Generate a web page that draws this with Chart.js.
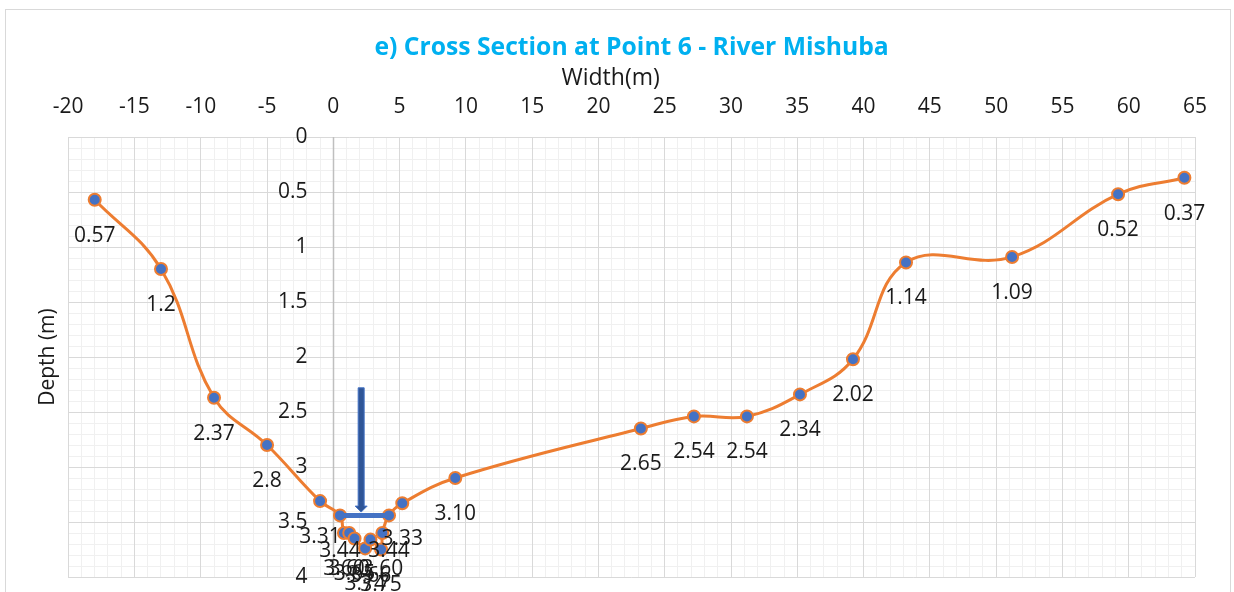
<!DOCTYPE html>
<html>
<head>
<meta charset="utf-8">
<script src="https://cdn.jsdelivr.net/npm/chart.js@4"></script>
<style>
  html, body { margin: 0; padding: 0; background: #fff; }
  #wrap { width: 1234px; height: 592px; }
</style>
</head>
<body>
<div id="wrap"><canvas id="chart"></canvas></div>
<script>
// cross section survey points
const widthX = [-18, -13, -9, -5, -1, 0.5, 0.8, 1.2, 1.6, 2.4, 2.8, 3.6, 3.7, 4.2, 5.2, 9.2,
    23.2, 27.2, 31.2, 35.2, 39.2, 43.2, 51.2, 59.2, 64.2];
const depthY = [0.57, 1.2, 2.37, 2.8, 3.31, 3.44, 3.60, 3.60, 3.65, 3.74, 3.66, 3.75, 3.60, 3.44, 3.33, 3.10,
    2.65, 2.54, 2.54, 2.34, 2.02, 1.14, 1.09, 0.52, 0.37];
const depthText = ['0.57', '1.2', '2.37', '2.8', '3.31', '3.44', '3.60', '3.60', '3.65', '3.74', '3.66', '3.75', '3.60', '3.44', '3.33', '3.10',
    '2.65', '2.54', '2.54', '2.34', '2.02', '1.14', '1.09', '0.52', '0.37'];

// axis ranges
const xRange = [-20, 65];
const yRange = [0, 4];

// water level marker (line + arrow)
const waterLineX = [0.3, 4.3];
const waterLineDepth = 3.44;
const arrowX = 2.1;
const arrowDepth = [2.28, 3.41];

const FONT = 'Open Sans';
const TXT = '#1a1a1a';
Chart.defaults.font.family = FONT;
Chart.defaults.color = TXT;

// y axis sits at x = 0, labels drawn on its left; x title a bit left of centre
const zeroAxis = {
    id: 'zeroAxis',
    beforeDatasetsDraw(chart) {
        const ctx = chart.ctx;
        const xs = chart.scales.x, ys = chart.scales.y;
        const area = chart.chartArea;
        const x0 = Math.round(xs.getPixelForValue(0)) + 0.5;
        ctx.save();
        ctx.strokeStyle = '#bfbfbf';
        ctx.lineWidth = 1.5;
        ctx.beginPath();
        ctx.moveTo(x0, area.top);
        ctx.lineTo(x0, area.bottom);
        ctx.stroke();
        ctx.font = '21px ' + FONT;
        ctx.fillStyle = TXT;
        ctx.textAlign = 'right';
        ctx.textBaseline = 'middle';
        ys.ticks.forEach(t => {
            ctx.fillText(String(Number(t.value.toFixed(2))), x0 - 26, ys.getPixelForValue(t.value));
        });
        ctx.font = '23px ' + FONT;
        ctx.textAlign = 'center';
        ctx.fillText('Width(m)', (area.left + area.right) / 2 - 21, xs.top + 2 + 13.8);
        ctx.restore();
    }
};

const pointLabels = {
    id: 'pointLabels',
    afterDatasetsDraw(chart) {
        const ctx = chart.ctx;
        const xs = chart.scales.x, ys = chart.scales.y;
        // water level line and arrow
        ctx.save();
        ctx.strokeStyle = '#4472C4';
        ctx.lineWidth = 5;
        ctx.beginPath();
        ctx.moveTo(xs.getPixelForValue(waterLineX[0]), ys.getPixelForValue(waterLineDepth));
        ctx.lineTo(xs.getPixelForValue(waterLineX[1]), ys.getPixelForValue(waterLineDepth));
        ctx.stroke();
        const ax = xs.getPixelForValue(arrowX);
        const ay0 = ys.getPixelForValue(arrowDepth[0]);
        const ay1 = ys.getPixelForValue(arrowDepth[1]);
        ctx.fillStyle = '#2F5597';
        ctx.strokeStyle = '#4472C4';
        ctx.lineWidth = 1;
        ctx.beginPath();
        ctx.moveTo(ax - 3, ay0);
        ctx.lineTo(ax + 3, ay0);
        ctx.lineTo(ax + 3, ay1 - 6);
        ctx.lineTo(ax + 6, ay1 - 6);
        ctx.lineTo(ax, ay1);
        ctx.lineTo(ax - 6, ay1 - 6);
        ctx.lineTo(ax - 3, ay1 - 6);
        ctx.closePath();
        ctx.fill();
        ctx.stroke();
        ctx.restore();

        // data labels below each point
        const meta = chart.getDatasetMeta(0);
        ctx.save();
        ctx.font = '21px ' + FONT;
        ctx.fillStyle = TXT;
        ctx.textAlign = 'center';
        ctx.textBaseline = 'middle';
        meta.data.forEach((pt, i) => {
            ctx.fillText(depthText[i], pt.x, pt.y + 36);
        });
        ctx.restore();
    }
};

const chartFrame = {
    id: 'chartFrame',
    beforeDraw(chart) {
        const ctx = chart.ctx;
        ctx.save();
        ctx.fillStyle = '#fff';
        ctx.fillRect(0, 0, chart.width, chart.height);
        ctx.strokeStyle = '#d9d9d9';
        ctx.lineWidth = 1;
        ctx.strokeRect(5.5, 9.5, chart.width - 9, chart.height + 20);
        ctx.restore();
    }
};

new Chart(document.getElementById('chart'), {
    type: 'line',
    data: {
        datasets: [{
            data: widthX.map((x, i) => ({ x: x, y: depthY[i] })),
            borderColor: '#ED7D31',
            borderWidth: 3,
            backgroundColor: '#4472C4',
            pointBackgroundColor: '#4472C4',
            pointBorderColor: '#ED7D31',
            pointBorderWidth: 2,
            pointRadius: 6,
            tension: 0.4,
            fill: false,
            xAxisID: 'x',
            yAxisID: 'y'
        }]
    },
    options: {
        responsive: true,
        maintainAspectRatio: false,
        animation: false,
        layout: { padding: { left: 33, right: 39, top: 0, bottom: 15 } },
        plugins: {
            legend: { display: false },
            tooltip: { enabled: false },
            title: {
                display: true,
                fullSize: false,
                text: 'e) Cross Section at Point 6 - River Mishuba',
                color: '#00B0F0',
                font: { size: 24.7, weight: 'bold' },
                padding: { top: 33, bottom: 0 }
            }
        },
        scales: {
            xMinor: {
                type: 'linear', position: 'top', min: xRange[0], max: xRange[1],
                ticks: { display: false, stepSize: 1 },
                grid: { color: '#f0f0f0', drawTicks: false },
                border: { display: false },
                z: -1
            },
            yMinor: {
                type: 'linear', position: 'left', reverse: true, min: yRange[0], max: yRange[1],
                ticks: { display: false, stepSize: 0.1 },
                grid: { color: '#f0f0f0', drawTicks: false },
                border: { display: false },
                title: { display: true, text: 'Depth (m)', font: { size: 21 }, color: TXT, padding: { top: 2, bottom: 8 } },
                z: -1
            },
            x: {
                type: 'linear', position: 'top', min: xRange[0], max: xRange[1],
                ticks: { stepSize: 5, font: { size: 21 }, padding: 17, color: TXT },
                grid: { color: '#d9d9d9', drawTicks: false },
                border: { display: false },
                // space kept for the axis title, drawn by zeroAxis plugin
                title: { display: true, text: 'Width(m)', font: { size: 23 }, color: 'rgba(0,0,0,0)', padding: { top: 2, bottom: -14.4 } }
            },
            y: {
                type: 'linear', position: 'left', reverse: true, min: yRange[0], max: yRange[1],
                ticks: { display: false, stepSize: 0.5 },
                grid: { color: '#d9d9d9', drawTicks: false },
                border: { display: false }
            }
        }
    },
    plugins: [chartFrame, zeroAxis, pointLabels]
});
</script>
</body>
</html>
